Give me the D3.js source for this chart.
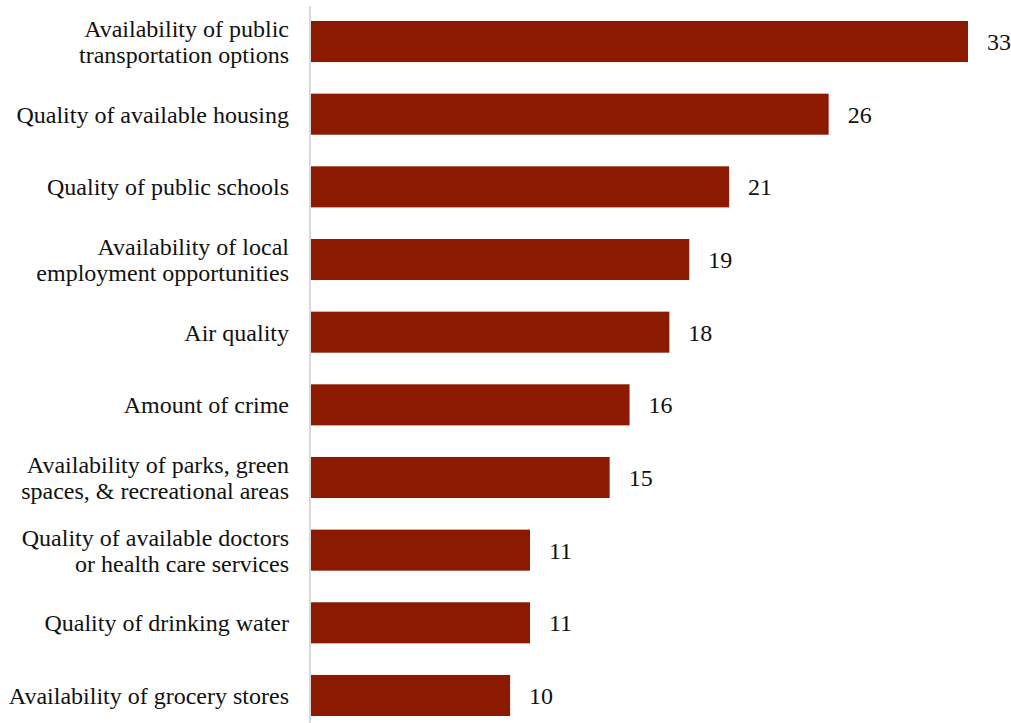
<!DOCTYPE html>
<html>
<head>
<meta charset="utf-8">
<script src="https://cdn.jsdelivr.net/npm/d3@7"></script>
<style>
  html, body { margin: 0; padding: 0; background: #fff; }
  svg { display: block; }
  text { font-family: "Liberation Serif", "Times New Roman", serif; fill: #111; }
</style>
</head>
<body>
<svg id="chart" width="1011" height="723"></svg>
<script>
// Issue labels (line breaks marked with "\n") and percentages
const categories = [
  "Availability of public\ntransportation options",
  "Quality of available housing",
  "Quality of public schools",
  "Availability of local\nemployment opportunities",
  "Air quality",
  "Amount of crime",
  "Availability of parks, green\nspaces, & recreational areas",
  "Quality of available doctors\nor health care services",
  "Quality of drinking water",
  "Availability of grocery stores"
];
const values = [33, 26, 21, 19, 18, 16, 15, 11, 11, 10];

const svg = d3.select("#chart");
const x0 = 311;
const fontSize = 24;

const x = d3.scaleLinear().domain([0, 33]).range([x0, 968]);
const y = d3.scaleBand()
  .domain(categories)
  .range([21, 716])
  .paddingInner(0.435)
  .paddingOuter(0);

// vertical baseline
svg.append("line")
  .attr("x1", x0 - 1).attr("x2", x0 - 1)
  .attr("y1", 6).attr("y2", 723)
  .attr("stroke", "#d9d9d9")
  .attr("stroke-width", 2);

// bars
svg.selectAll("rect.bar")
  .data(categories)
  .join("rect")
  .attr("class", "bar")
  .attr("x", x(0))
  .attr("y", d => y(d))
  .attr("width", (d, i) => x(values[i]) - x(0))
  .attr("height", y.bandwidth())
  .attr("fill", "#8c1a00");

// value labels
svg.selectAll("text.val")
  .data(categories)
  .join("text")
  .attr("class", "val")
  .attr("x", (d, i) => x(values[i]) + 19)
  .attr("y", d => y(d) + y.bandwidth() / 2)
  .attr("dy", "0.35em")
  .attr("font-size", fontSize)
  .text((d, i) => values[i]);

// category labels
const lineH = 26;
svg.selectAll("text.cat")
  .data(categories)
  .join("text")
  .attr("class", "cat")
  .attr("text-anchor", "end")
  .attr("font-size", fontSize)
  .each(function (d) {
    const lines = d.split("\n");
    const cy = y(d) + y.bandwidth() / 2;
    const top = cy - (lines.length - 1) * lineH / 2;
    d3.select(this).selectAll("tspan")
      .data(lines)
      .join("tspan")
      .attr("x", 289)
      .attr("y", (l, j) => top + j * lineH)
      .attr("dy", "0.35em")
      .text(l => l);
  });
</script>
</body>
</html>
